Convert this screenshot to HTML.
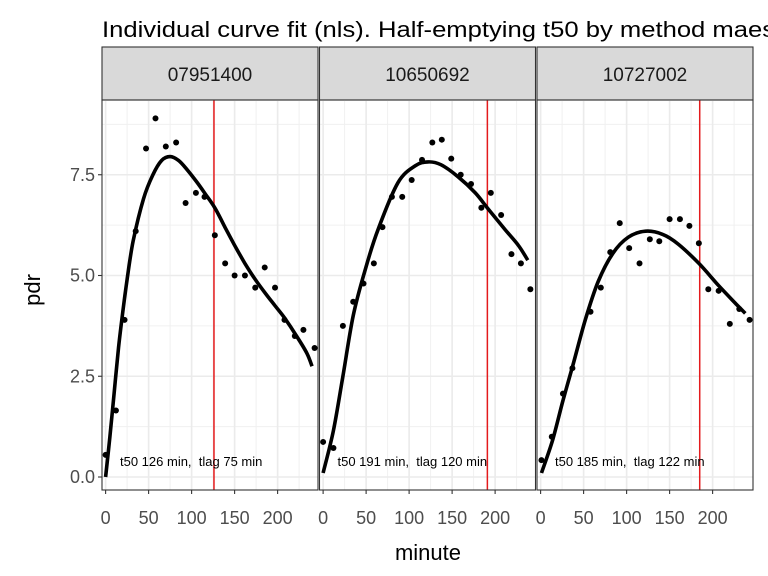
<!DOCTYPE html>
<html><head><meta charset="utf-8">
<style>
html,body{margin:0;padding:0;background:#fff;}
svg{display:block;font-family:"Liberation Sans",Arial,sans-serif;}
</style></head>
<body>
<svg id="chart" width="768" height="576" viewBox="0 0 768 576">
<text x="102" y="37" font-size="22" textLength="757" lengthAdjust="spacingAndGlyphs" fill="#000">Individual curve fit (nls). Half-emptying t50 by method maes_ghoos</text>
<text transform="translate(40,290) rotate(-90)" text-anchor="middle" font-size="22" fill="#000">pdr</text>
<text x="428" y="560" text-anchor="middle" font-size="22" fill="#000">minute</text>
<g id="panels"></g>
</svg>
<script>
const panelIds = ["07951400","10650692","10727002"];
const xTicks = [0,50,100,150,200];
const yTicks = [0,2.5,5,7.5];
const yTickLabels = ["0.0","2.5","5.0","7.5"];
const t50 = [126,191,185];
const tlag = [75,120,122];
const pts1Min = [0,12,22,35,47,58,70,82,93,105,115,127,139,150,162,174,185,197,208,220,230,243];
const pts1Pdr = [0.55,1.65,3.9,6.1,8.15,8.9,8.2,8.3,6.8,7.05,6.95,6.0,5.3,5.0,5.0,4.7,5.2,4.7,3.9,3.5,3.65,3.2];
const pts2Min = [0,12,23,35,47,59,69,80,92,103,115,127,138,149,160,172,184,195,207,219,230,241];
const pts2Pdr = [0.87,0.72,3.75,4.35,4.8,5.3,6.2,6.95,6.95,7.37,7.87,8.3,8.37,7.9,7.5,7.27,6.68,7.05,6.5,5.53,5.3,4.66];
const pts3Min = [1,13,26,37,58,70,81,92,103,115,127,138,150,162,173,184,195,207,220,231,243];
const pts3Pdr = [0.42,1.0,2.07,2.7,4.1,4.7,5.58,6.3,5.68,5.3,5.9,5.85,6.4,6.4,6.23,5.8,4.66,4.62,3.8,4.17,3.9];
const fit1Min = [0,5,10,15,20,25,32,44,55,65,75,85,95,106,116,127,140,150,162,174,186,197,208,222,234,240];
const fit1Pdr = [0,1.0,2.1,3.2,4.1,4.9,5.85,6.9,7.5,7.85,7.95,7.85,7.62,7.32,7.02,6.68,6.15,5.75,5.3,4.9,4.55,4.25,3.95,3.5,3.07,2.75];
const fit2Min = [0,12,23,35,49,64,87,107,122,137,157,177,192,212,227,238];
const fit2Pdr = [0.1,1.15,2.5,4.0,5.15,6.15,7.3,7.72,7.82,7.75,7.45,7.05,6.65,6.13,5.75,5.38];
const fit3Min = [1,14,26,37,52,67,84,102,122,142,160,184,207,227,238];
const fit3Pdr = [0.1,0.92,1.9,2.73,3.9,4.85,5.55,5.95,6.1,6.02,5.78,5.3,4.75,4.3,4.06];

const ptsMin=[pts1Min,pts2Min,pts3Min], ptsPdr=[pts1Pdr,pts2Pdr,pts3Pdr];
const fitMin=[fit1Min,fit2Min,fit3Min], fitPdr=[fit1Pdr,fit2Pdr,fit3Pdr];
const NS="http://www.w3.org/2000/svg";
const panelLeft=[102,319.5,537], panelW=216, plotTop=100, plotBottom=490;
const xmin=-4.2, kx=0.86;
function yScale(v){return 477-v*40.3;}
function mk(tag,attrs,parent){const e=document.createElementNS(NS,tag);for(const k in attrs)e.setAttribute(k,attrs[k]);parent.appendChild(e);return e;}
function smoothPath(P){
  let d='M'+P[0][0].toFixed(1)+','+P[0][1].toFixed(1);
  for(let i=0;i<P.length-1;i++){
    const p0=P[i-1]||P[i], p1=P[i], p2=P[i+1], p3=P[i+2]||P[i+1];
    const c1=[p1[0]+(p2[0]-p0[0])/6, p1[1]+(p2[1]-p0[1])/6];
    const c2=[p2[0]-(p3[0]-p1[0])/6, p2[1]-(p3[1]-p1[1])/6];
    d+=' C'+c1[0].toFixed(1)+','+c1[1].toFixed(1)+' '+c2[0].toFixed(1)+','+c2[1].toFixed(1)+' '+p2[0].toFixed(1)+','+p2[1].toFixed(1);
  }
  return d;
}
const root=document.getElementById('panels');
for(let p=0;p<3;p++){
  const L=panelLeft[p];
  const xs=v=>L+(v-xmin)*kx;
  const g=mk('g',{},root);
  
  
  const s=mk('rect',{x:L,y:47,width:panelW,height:53,fill:'#d9d9d9',stroke:'#333',"stroke-width":1.1},g);
  
  
  const st=mk('text',{x:L+panelW/2,y:81,"text-anchor":"middle","font-size":19,fill:'#1a1a1a'},g);
  st.textContent=panelIds[p];
  
  
  for(let m=25;m<=225;m+=50){mk('line',{x1:xs(m),x2:xs(m),y1:plotTop,y2:plotBottom,stroke:'#f0f0f0',"stroke-width":1},g);}
  for(let v=1.25;v<=8.75;v+=2.5){mk('line',{x1:L,x2:L+panelW,y1:yScale(v),y2:yScale(v),stroke:'#f0f0f0',"stroke-width":1},g);}
  xTicks.forEach(m=>{const gl=mk('line',{x1:xs(m),x2:xs(m),y1:plotTop,y2:plotBottom,stroke:'#ebebeb',"stroke-width":1.6},g);});
  yTicks.forEach(v=>{const gl=mk('line',{x1:L,x2:L+panelW,y1:yScale(v),y2:yScale(v),stroke:'#ebebeb',"stroke-width":1.6},g);});
  const rl=mk('line',{x1:xs(t50[p]),x2:xs(t50[p]),y1:plotTop,y2:plotBottom,stroke:'#e41a1c',"stroke-width":1.5},g);
  
  
  const P=fitMin[p].map((m,i)=>[xs(m),yScale(fitPdr[p][i])]);
  const fl=mk('path',{d:smoothPath(P),fill:'none',stroke:'#000',"stroke-width":3.6,"stroke-linejoin":"round","stroke-linecap":"butt"},g);
  
  
  ptsMin[p].forEach((m,i)=>{const c=mk('circle',{cx:xs(m),cy:yScale(ptsPdr[p][i]),r:3,fill:'#000'},g);});
  const an=mk('text',{x:L+18,y:466,"font-size":13,fill:'#000'},g);
  an.textContent='t50 '+t50[p]+' min,\u00a0 tlag '+tlag[p]+' min';
  
  
  const b=mk('rect',{x:L,y:plotTop,width:panelW,height:plotBottom-plotTop,fill:'none',stroke:'#333',"stroke-width":1.1},g);
  
  
  xTicks.forEach(m=>{
    mk('line',{x1:xs(m),x2:xs(m),y1:plotBottom,y2:plotBottom+4,stroke:'#333',"stroke-width":1.1},g);
    const t=mk('text',{x:xs(m),y:524,"text-anchor":"middle","font-size":18,fill:'#4d4d4d'},g);
    t.textContent=m;
    
    
  });
}
yTicks.forEach((v,i)=>{
  mk('line',{x1:98,x2:102,y1:yScale(v),y2:yScale(v),stroke:'#333',"stroke-width":1.1},root);
  const t=mk('text',{x:95,y:yScale(v)+6,"text-anchor":"end","font-size":18,fill:'#4d4d4d'},root);
  t.textContent=yTickLabels[i];
  
  
});
</script>
</body></html>
